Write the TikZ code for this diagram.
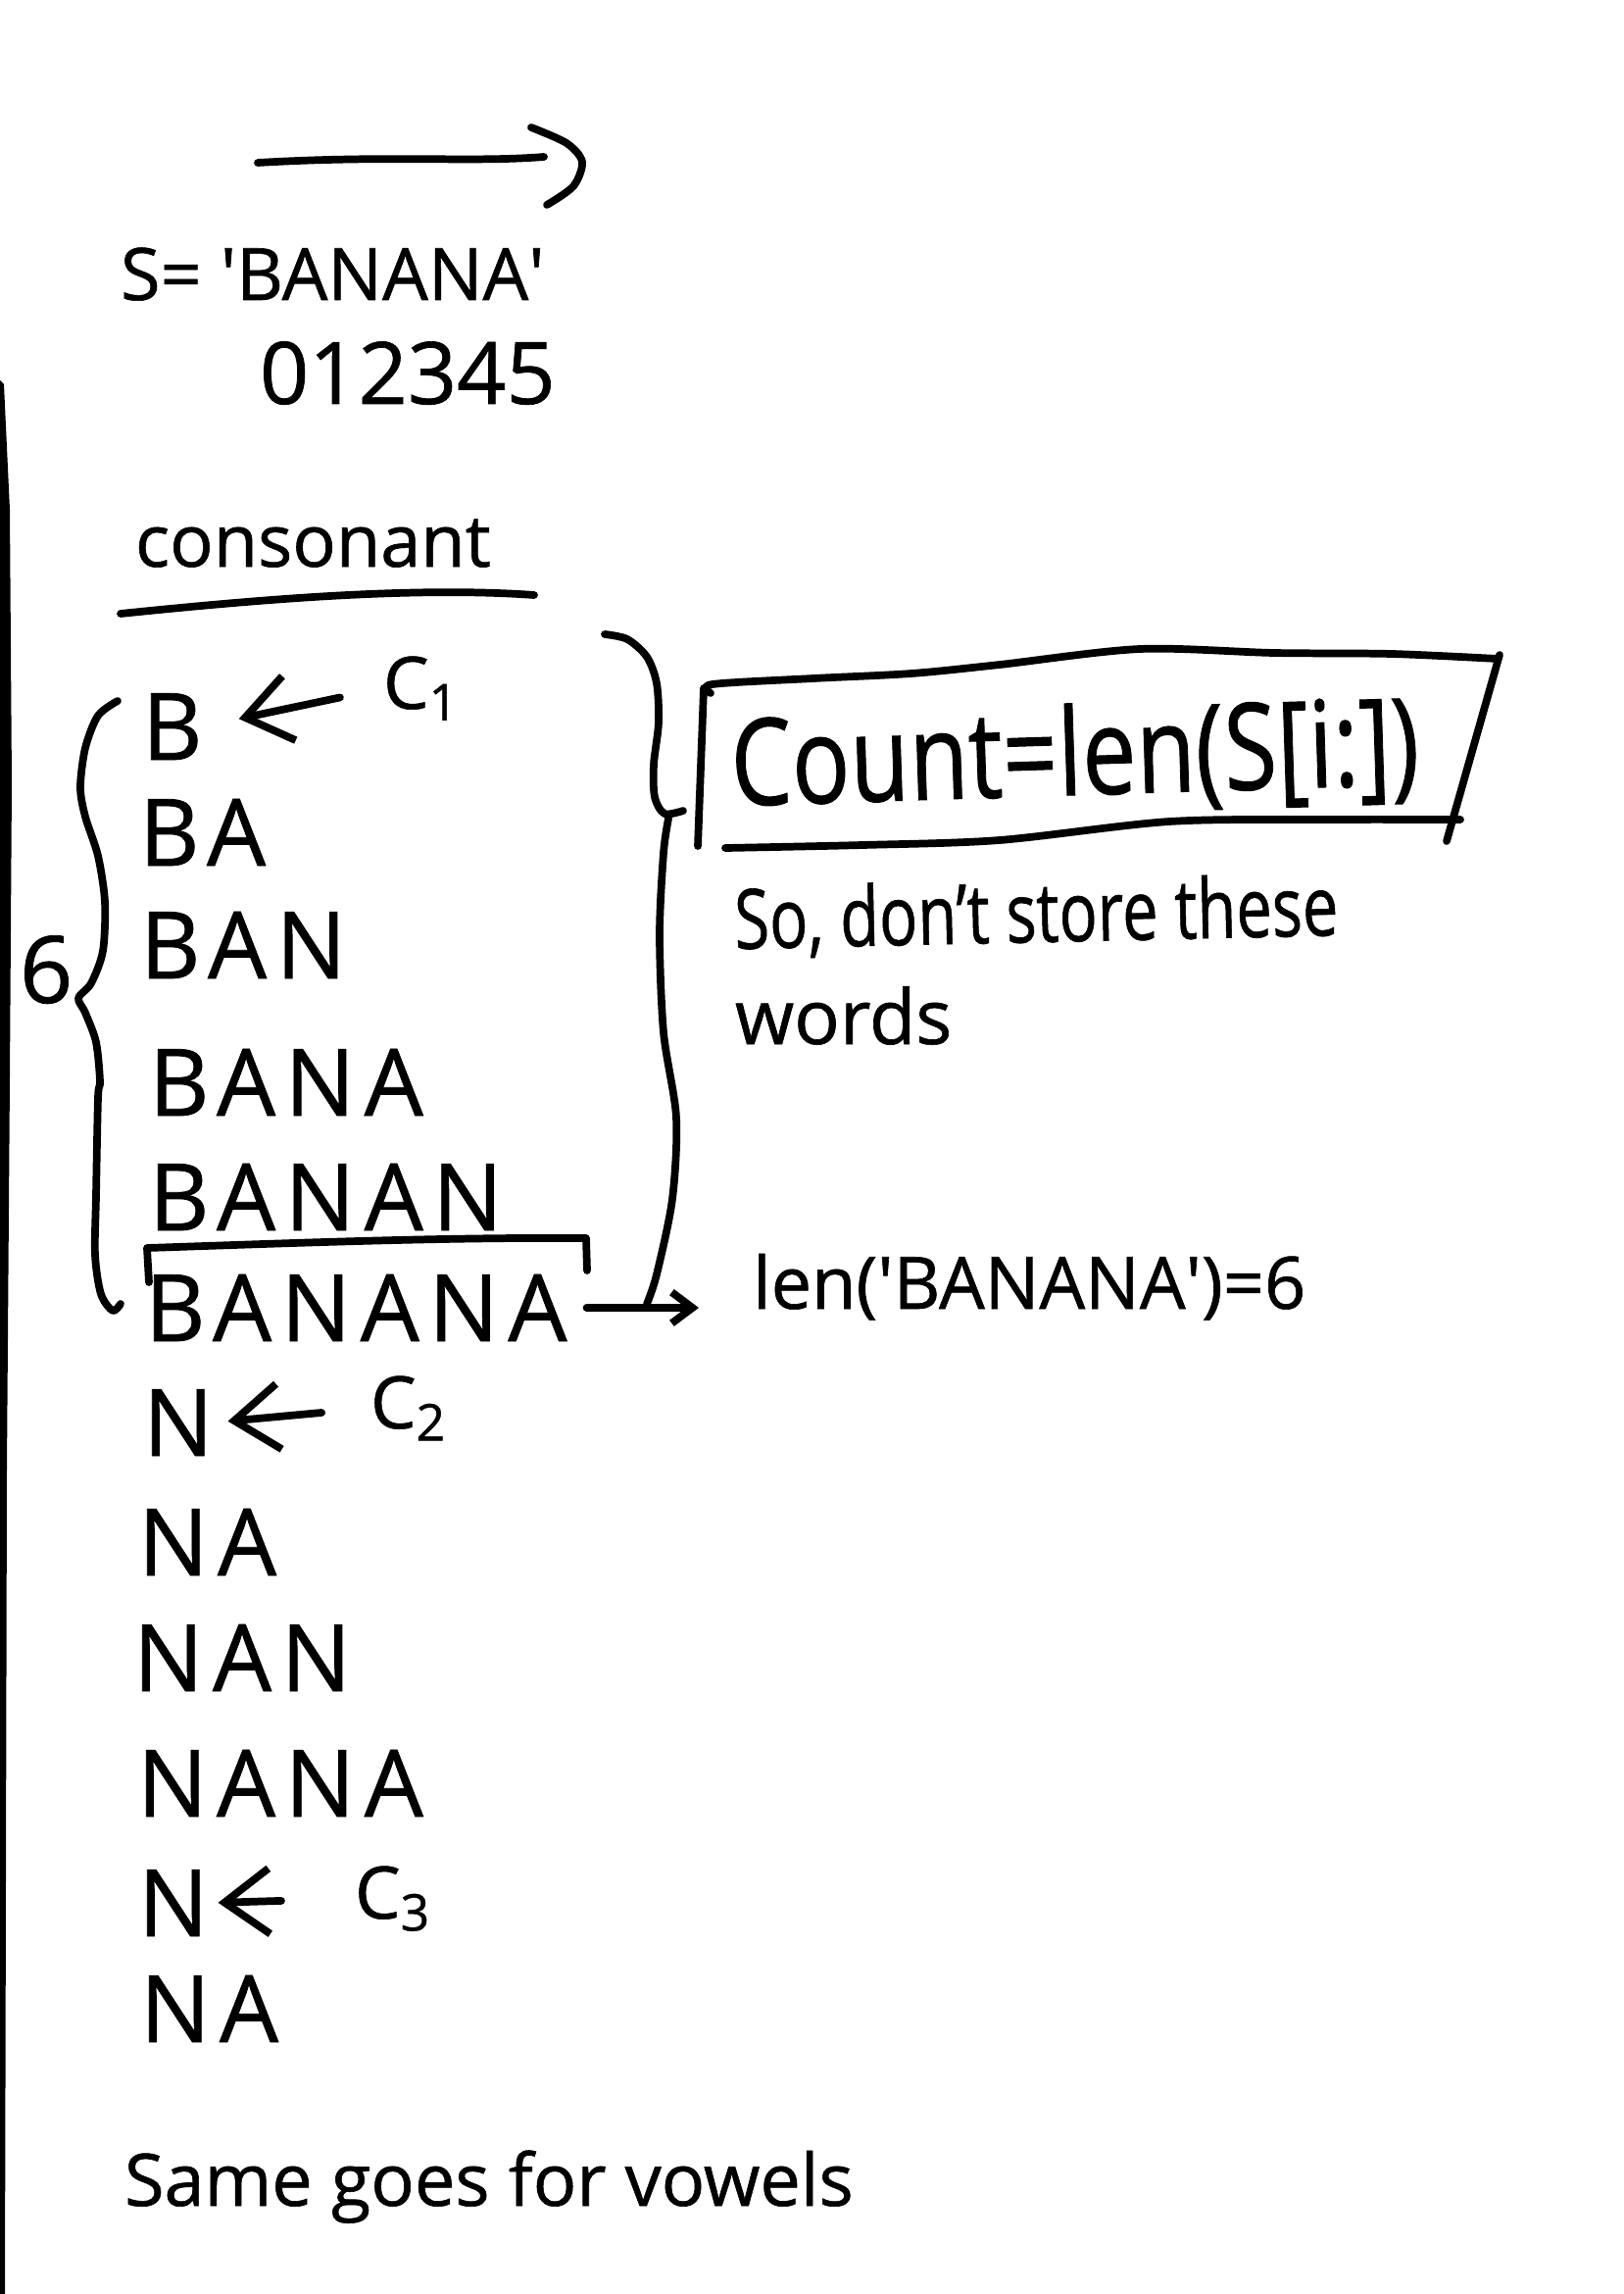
\documentclass[tikz,border=0pt]{standalone}
\usepackage{fontspec}
\usepackage{graphicx}
\setmainfont{Open Sans}[FakeBold=0.8]
\usetikzlibrary{arrows.meta}
\newcommand{\fsz}[1]{\fontsize{#1}{#1}\selectfont}
\begin{document}
\begin{tikzpicture}[x=0.01cm,y=-0.01cm,
  pen/.style={line width=2.2pt,line cap=round,line join=round},
  txt/.style={inner sep=0pt,outer sep=0pt,anchor=base west},
  big/.style={txt,font=\fsz{27}\addfontfeatures{LetterSpace=10}},
  mid/.style={txt,font=\fsz{21}},
  harrow/.style={pen,-{Straight Barb[length=13pt,width=19pt]}},
  smallarrow/.style={pen,-{Straight Barb[length=6pt,width=9pt]}},
]
\fill[white] (0,0) rectangle (1656,2340);
\useasboundingbox (0,0) rectangle (1656,2340);
% scanned page edge
\fill[black] (0,388) -- (4,392) -- (10,520) -- (12,800) -- (10,1100) -- (7,1500) -- (5,2340) -- (0,2340) -- cycle;

% header
\coordinate (ta) at (263,166);
\coordinate (tb) at (555,160);
\draw[pen] (ta) .. controls (400,158) and (480,166) .. (tb);
\draw[pen] plot[smooth] coordinates {(542,130)(578,146)(594,165)(585,190)(558,209)};
\node[mid] (s) at (123,306) {S= \textquotesingle BANANA\textquotesingle};
\node[txt,font=\fsz{25}] (idx) at (265,412) {012345};
\node[mid] (cons) at (138,578) {consonant};
\draw[pen] (123,626) .. controls (260,612) and (420,598) .. (545,607);

% list of substrings starting with B
\node[big] (b1) at (145,775) {B};
\node[mid] (c1) at (391,723) {C\textsubscript{1}};
\node[big] (l2) at (142,883) {BA};
\node[big] (l3) at (143,998) {BAN};
\node[big] (l4) at (152,1138) {BANA};
\node[big] (l5) at (152,1255) {BANAN};
\node[big] (l6) at (148,1368) {BANANA};
\node[txt,font=\fsz{27}] (six) at (20,1023) {6};
\draw[harrow, shorten <=0.45cm, shorten >=0.38cm] (c1.west) -- (b1.east);

% left brace
\draw[pen] plot[smooth] coordinates {(120,715)(100,730)(87,763)(82,803)(87,833)(100,873)(107,920)(105,970)(93,1003)(80,1018)(87,1033)(98,1063)(102,1103)(100,1120)(98,1220)(97,1280)(103,1320)(115,1337)(123,1330)};

% box over BANANA
\draw[pen] (152,1308) -- (150,1273) .. controls (300,1268) and (450,1262) .. (598,1263) -- (599,1296);

% right brace
\draw[pen] plot[smooth] coordinates {(617,647)(640,652)(660,670)(670,697)(672,737)(667,780)(668,813)(678,830)(697,827)};
\draw[pen] plot[smooth] coordinates {(682,835)(677,870)(673,953)(677,1053)(690,1140)(686,1223)(670,1300)(660,1330)};

% count box
\node[txt,font=\fsz{28},rotate=1.8] (cnt) at (747,822) {\scalebox{1}[1.25]{Count=len(S[i:])}};
\draw[pen] (718,702) -- (712,863);
\draw[pen] plot[smooth] coordinates {(725,707)(727,698)(830,692)(930,687)(1020,678)(1163,662)(1300,666)(1420,667)(1528,672)};
\draw[pen] (1530,668) -- (1476,858);
\draw[pen] plot[smooth] coordinates {(740,865)(880,862)(1020,857)(1193,838)(1350,836)(1490,836)};
\node[txt,font=\fsz{18.5},rotate=1.3] (dont) at (750,968) {\scalebox{1}[1.3]{So, don't store these}};
\node[txt,font=\fsz{22}] (words) at (750,1065) {words};

% len
\node[txt,font=\fsz{21}] (len) at (768,1335) {len(\textquotesingle BANANA\textquotesingle)=6};
\draw[smallarrow, shorten <=0.2cm, shorten >=0.55cm] (l6.east) -- (l6.east -| len.west);

% list of substrings starting with N
\node[big] (n1) at (146,1485) {N};
\node[mid] (c2) at (378,1457) {C\textsubscript{2}};
\draw[harrow, shorten <=0.5cm, shorten >=0.15cm] (c2.west) -- (n1.east);
\node[big] (m2) at (141,1607) {NA};
\node[big] (m3) at (136,1725) {NAN};
\node[big] (m4) at (140,1853) {NANA};
\node[big] (n2) at (141,1975) {N};
\node[mid] (c3) at (362,1957) {C\textsubscript{3}};
\draw[harrow, shorten <=0.75cm, shorten >=0.1cm] (c3.west) -- (n2.east);
\node[big] (m5) at (143,2083) {NA};

\node[txt,font=\fsz{21}] (same) at (127,2250) {Same goes for vowels};
\end{tikzpicture}
\end{document}
